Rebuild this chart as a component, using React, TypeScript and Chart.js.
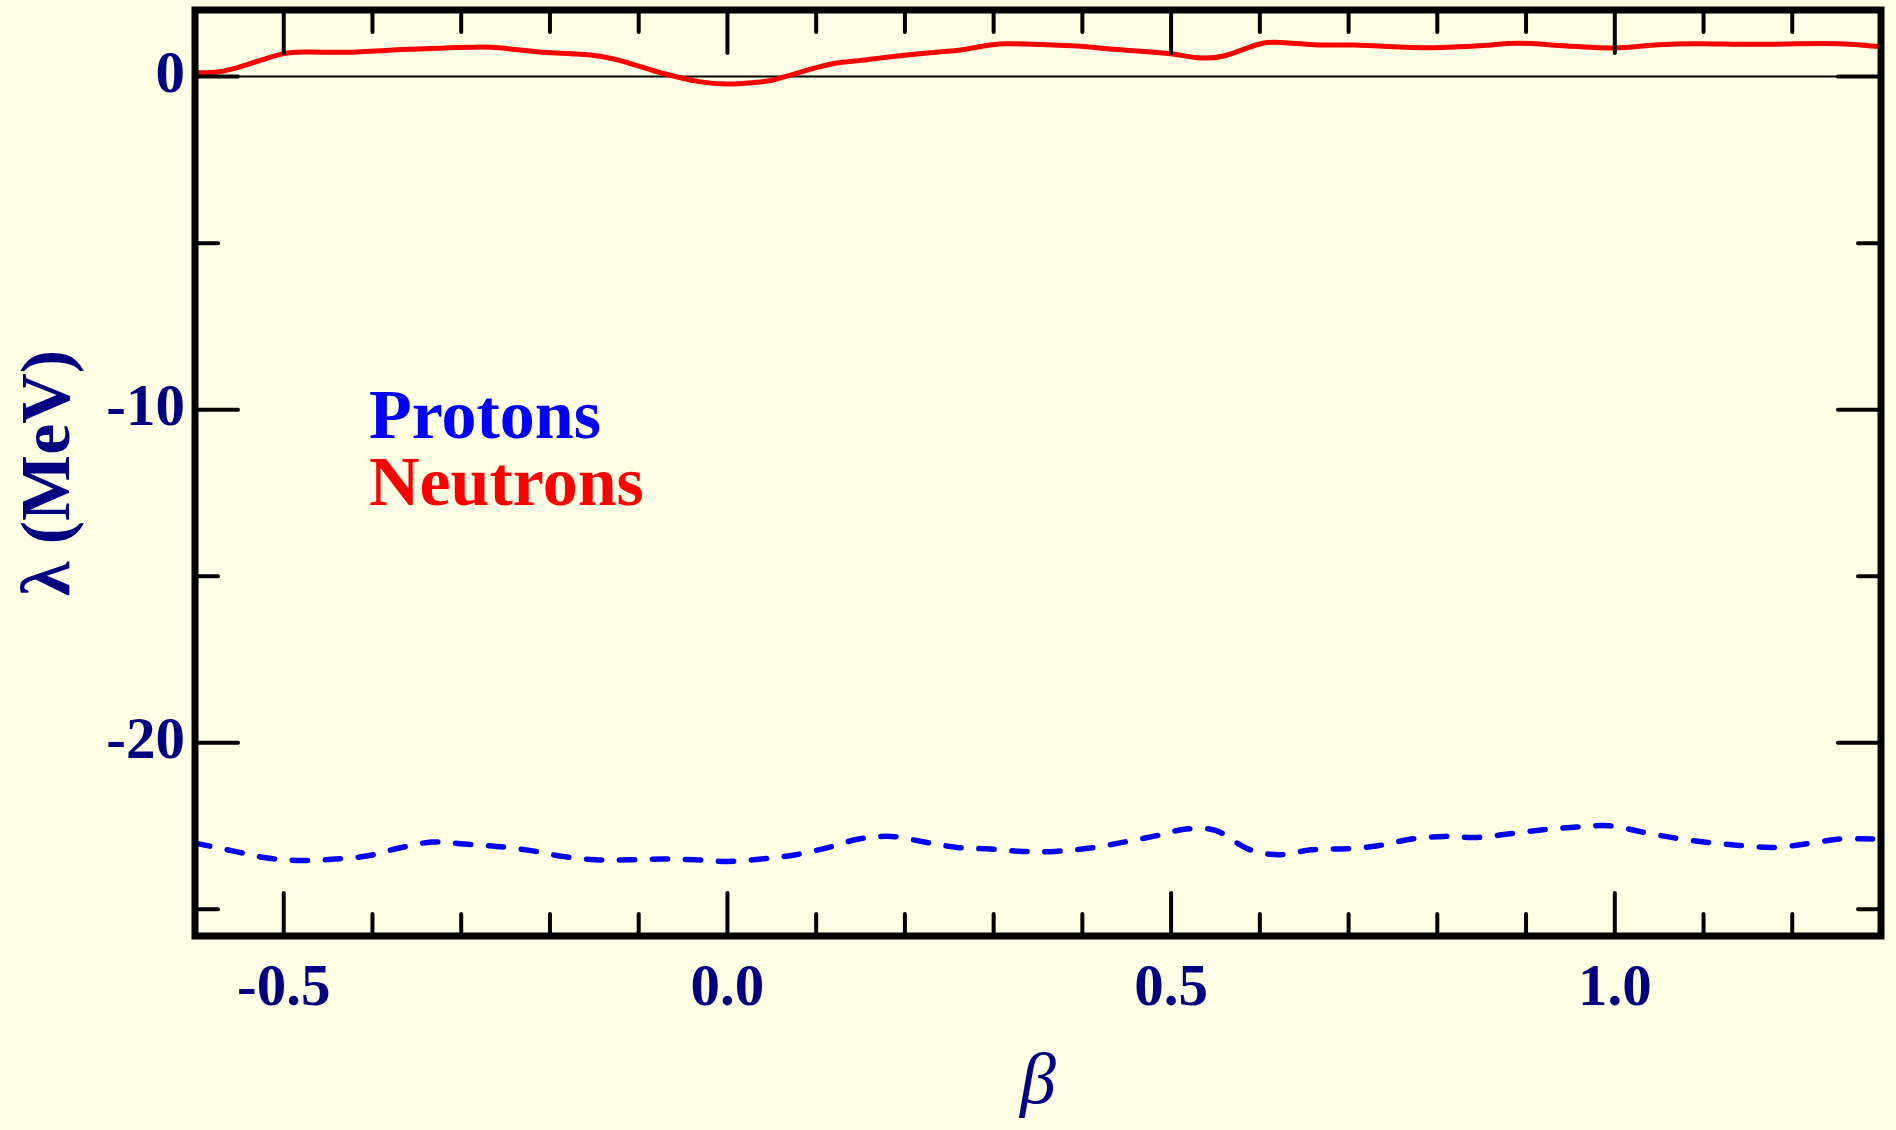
import React, { useEffect, useRef } from "react";
import Chart from "chart.js/auto";

// Neutrons (red solid)
const betaN = [-0.6, -0.577, -0.553, -0.524, -0.5, -0.479, -0.43, -0.36, -0.278, -0.258, -0.213, -0.176, -0.143, -0.114, -0.073, -0.032, 0.0, 0.033, 0.05, 0.099, 0.123, 0.148, 0.189, 0.238, 0.263, 0.296, 0.316, 0.394, 0.435, 0.501, 0.533, 0.558, 0.603, 0.628, 0.665, 0.706, 0.781, 0.843, 0.892, 0.946, 1.0, 1.049, 1.091, 1.153, 1.252, 1.3];
const lambdaN = [0.12, 0.13, 0.26, 0.51, 0.69, 0.74, 0.73, 0.82, 0.89, 0.87, 0.74, 0.69, 0.61, 0.43, 0.10, -0.15, -0.22, -0.17, -0.11, 0.26, 0.41, 0.48, 0.61, 0.74, 0.80, 0.95, 0.99, 0.92, 0.82, 0.68, 0.56, 0.61, 1.0, 1.02, 0.95, 0.95, 0.87, 0.92, 1.0, 0.92, 0.86, 0.96, 0.99, 0.97, 0.99, 0.90];

// Protons (blue dashed)
const betaP = [-0.6, -0.555, -0.518, -0.481, -0.442, -0.405, -0.37, -0.333, -0.297, -0.26, -0.223, -0.186, -0.149, -0.11, -0.073, -0.037, 0.0, 0.038, 0.077, 0.111, 0.148, 0.185, 0.222, 0.259, 0.296, 0.333, 0.369, 0.409, 0.445, 0.48, 0.517, 0.55, 0.587, 0.622, 0.658, 0.698, 0.733, 0.771, 0.808, 0.845, 0.882, 0.919, 0.957, 0.994, 1.031, 1.068, 1.105, 1.14, 1.18, 1.217, 1.254, 1.3];
const lambdaP = [-23.01, -23.26, -23.46, -23.53, -23.49, -23.39, -23.16, -22.98, -23.04, -23.11, -23.23, -23.41, -23.51, -23.51, -23.49, -23.51, -23.56, -23.49, -23.36, -23.16, -22.89, -22.81, -22.98, -23.14, -23.19, -23.26, -23.26, -23.16, -22.99, -22.81, -22.59, -22.63, -23.19, -23.36, -23.21, -23.18, -23.09, -22.89, -22.81, -22.84, -22.73, -22.61, -22.53, -22.49, -22.68, -22.86, -22.99, -23.08, -23.14, -23.03, -22.89, -22.89];

const xMajorTicks = [-0.5, 0.0, 0.5, 1.0];
const xMinorTicks = [-0.4, -0.3, -0.2, -0.1, 0.1, 0.2, 0.3, 0.4, 0.6, 0.7, 0.8, 0.9, 1.1, 1.2];
const yMajorTicks = [0, -10, -20];
const yMinorTicks = [-5, -15, -25];
const legendLabels = ["Protons", "Neutrons"];
const legendColors = ["#0000ff", "#ff0000"];

const NAVY = "#000080";
const BG = "#ffffe5";
const FONT = "'Liberation Serif', 'Times New Roman', serif";

const framePlugin = {
  id: "frame",
  beforeDatasetsDraw(chart: any) {
    const { ctx, chartArea: a, scales } = chart;
    const y0 = scales.y.getPixelForValue(0);
    ctx.save();
    ctx.strokeStyle = "#000";
    ctx.lineWidth = 2;
    ctx.beginPath();
    ctx.moveTo(a.left, y0);
    ctx.lineTo(a.right, y0);
    ctx.stroke();
    ctx.restore();
  },
  afterDatasetsDraw(chart: any) {
    const { ctx, chartArea: a, scales } = chart;
    const { x, y } = scales;
    ctx.save();
    ctx.strokeStyle = "#000";
    ctx.lineCap = "round";
    ctx.lineWidth = 4;
    const vt = (v: number, len: number) => {
      const px = x.getPixelForValue(v);
      ctx.beginPath();
      ctx.moveTo(px, a.top);
      ctx.lineTo(px, a.top + len);
      ctx.moveTo(px, a.bottom);
      ctx.lineTo(px, a.bottom - len);
      ctx.stroke();
    };
    const ht = (v: number, len: number) => {
      const py = y.getPixelForValue(v);
      ctx.beginPath();
      ctx.moveTo(a.left, py);
      ctx.lineTo(a.left + len, py);
      ctx.moveTo(a.right, py);
      ctx.lineTo(a.right - len, py);
      ctx.stroke();
    };
    xMajorTicks.forEach((v) => vt(v, 43));
    xMinorTicks.forEach((v) => vt(v, 22));
    yMajorTicks.forEach((v) => ht(v, 43));
    yMinorTicks.forEach((v) => ht(v, 23));
    ctx.lineCap = "square";
    ctx.lineJoin = "miter";
    ctx.lineWidth = 7;
    ctx.strokeRect(a.left, a.top, a.right - a.left, a.bottom - a.top);
    // legend text
    ctx.font = `bold 70px ${FONT}`;
    ctx.textAlign = "left";
    ctx.textBaseline = "alphabetic";
    legendLabels.forEach((t, i) => {
      ctx.fillStyle = legendColors[i];
      ctx.fillText(t, a.left + 174, a.top + 428 + i * 67);
    });
    ctx.restore();
  },
};

export default function App() {
  const ref = useRef<HTMLCanvasElement | null>(null);
  useEffect(() => {
    document.body.style.margin = "0";
    document.body.style.background = BG;
    const canvas = ref.current!;
    const chart = new Chart(canvas, {
      type: "line",
      data: {
        datasets: [
          {
            label: legendLabels[0],
            data: betaP.map((b, i) => ({ x: b, y: lambdaP[i] })),
            borderColor: legendColors[0],
            borderWidth: 5.5,
            borderDash: [15, 18],
            borderCapStyle: "round",
            pointRadius: 0,
            tension: 0.35,
            fill: false,
          },
          {
            label: legendLabels[1],
            data: betaN.map((b, i) => ({ x: b, y: lambdaN[i] })),
            borderColor: legendColors[1],
            borderWidth: 5,
            pointRadius: 0,
            tension: 0.35,
            fill: false,
          },
        ],
      },
      options: {
        animation: false,
        responsive: false,
        devicePixelRatio: 1,
        layout: { padding: { left: 0, right: 15, top: 10, bottom: 0 } },
        plugins: { legend: { display: false }, tooltip: { enabled: false } },
        scales: {
          x: {
            type: "linear",
            min: -0.6,
            max: 1.3,
            grid: { display: false, drawTicks: false },
            border: { display: false },
            afterBuildTicks: (s: any) => {
              s.ticks = xMajorTicks.map((v) => ({ value: v }));
            },
            afterFit: (s: any) => {
              s.height = 194;
              s.paddingLeft = 0;
              s.paddingRight = 0;
            },
            ticks: {
              autoSkip: false,
              maxRotation: 0,
              padding: 18,
              color: NAVY,
              font: { family: FONT, size: 59, weight: "bold" },
              callback: (v: any) => Number(v).toFixed(1),
            },
            title: {
              display: true,
              text: "β",
              color: NAVY,
              font: { family: FONT, size: 72, style: "italic" },
              padding: { top: 0, bottom: 3 },
            },
          },
          y: {
            type: "linear",
            min: -25.8,
            max: 2,
            grid: { display: false, drawTicks: false },
            border: { display: false },
            afterBuildTicks: (s: any) => {
              s.ticks = yMajorTicks.map((v) => ({ value: v }));
            },
            afterFit: (s: any) => {
              s.width = 195;
              s.paddingTop = 0;
              s.paddingBottom = 0;
            },
            ticks: {
              autoSkip: false,
              padding: 10,
              color: NAVY,
              font: { family: FONT, size: 59, weight: "bold" },
              callback: (v: any) => String(v),
            },
            title: {
              display: true,
              text: "λ (MeV)",
              color: NAVY,
              font: { family: FONT, size: 70, weight: "bold" },
              padding: { top: 9, bottom: 0 },
            },
          },
        },
      },
      plugins: [framePlugin],
    } as any);
    return () => chart.destroy();
  }, []);
  return (
    <div style={{ width: 1896, height: 1130, background: BG }}>
      <canvas ref={ref} width={1896} height={1130} style={{ display: "block", width: 1896, height: 1130 }} />
    </div>
  );
}
